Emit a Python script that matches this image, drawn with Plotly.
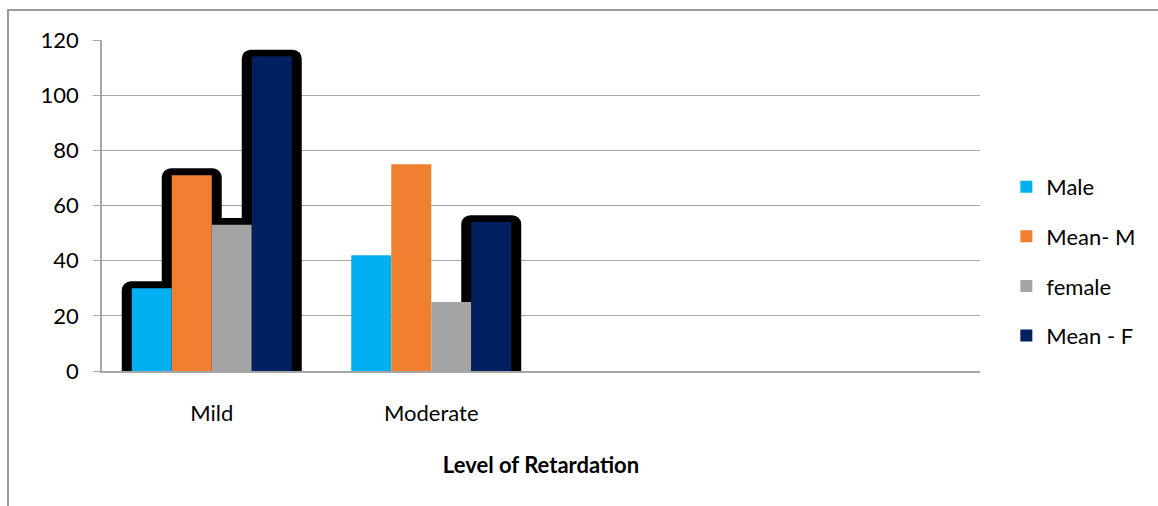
import plotly.graph_objects as go

# Data
categories = ["Mild", "Moderate"]
male = [30, 42]
mean_m = [71, 75]
female = [53, 25]
mean_f = [114, 54]

series_names = ["Male", "Mean- M", "female", "Mean - F"]
series_values = [male, mean_m, female, mean_f]
series_colors = ["#00B0F0", "#F0802F", "#A4A4A4", "#002060"]

# which points carry the black highlight outline (Mild: all, Moderate: Mean - F only)
highlighted = [
    [True, False],
    [True, False],
    [True, False],
    [True, True],
]

# geometry in category units (one category = 1.0)
plot_w_px = 878.0
cat_px = plot_w_px / 4.0
bar_w = 40.0 / cat_px
glow_side = 10.0 / cat_px
glow_top = 2.5  # value units above the bar top

fig = go.Figure()

# black rounded highlight shapes, drawn behind the coloured bars
for i, (vals, flags) in enumerate(zip(series_values, highlighted)):
    glow_vals = [v + glow_top if f else None for v, f in zip(vals, flags)]
    fig.add_trace(go.Bar(
        x=categories, y=glow_vals,
        offset=-2 * bar_w + i * bar_w - glow_side,
        width=bar_w + 2 * glow_side,
        marker=dict(color="black", line=dict(width=0), cornerradius=9),
        showlegend=False, hoverinfo="skip",
    ))

for i, (name, vals, col) in enumerate(zip(series_names, series_values, series_colors)):
    fig.add_trace(go.Bar(
        x=categories, y=vals, name=name,
        offset=-2 * bar_w + i * bar_w,
        width=bar_w,
        marker=dict(color=col, line=dict(width=0)),
        legendgroup=name,
    ))

grid_col = "#A6A6A6"
font_family = "Lato, 'Open Sans', sans-serif"
fs = 22

fig.update_layout(
    width=1158, height=506,
    margin=dict(l=102, r=178, t=40, b=135),
    paper_bgcolor="white", plot_bgcolor="white",
    barmode="overlay",
    font=dict(family=font_family, size=fs, color="#000000"),
    showlegend=True,
    legend=dict(
        x=1.03, y=0.331, xanchor="left", yanchor="middle",
        font=dict(size=fs, family=font_family),
        tracegroupgap=18, traceorder="grouped",
        bgcolor="rgba(0,0,0,0)",
    ),
    xaxis=dict(
        type="category", categoryorder="array", categoryarray=categories,
        range=[-0.5, 3.5],
        showgrid=False, zeroline=False,
        showline=True, linecolor=grid_col, linewidth=1.5,
        ticks="", tickfont=dict(size=fs), ticklabelstandoff=22,
        title=dict(text="<b>Level of Retardation</b>", font=dict(size=fs), standoff=32),
    ),
    yaxis=dict(
        range=[0, 120], tickvals=[0, 20, 40, 60, 80, 100, 120],
        showgrid=True, gridcolor=grid_col, gridwidth=1,
        zeroline=False, showline=True, linecolor=grid_col, linewidth=1.5,
        ticks="outside", ticklen=7, tickcolor=grid_col,
        tickfont=dict(size=fs), ticklabelstandoff=10,
    ),
    shapes=[dict(
        type="rect", xref="paper", yref="paper",
        x0=(8 - 102) / plot_w_px, x1=1.3,
        y0=-0.6, y1=(371 - 10) / 331.0,
        line=dict(color="#999999", width=2), fillcolor="rgba(0,0,0,0)",
        layer="below",
    )],
)

fig.write_html("out.html")
